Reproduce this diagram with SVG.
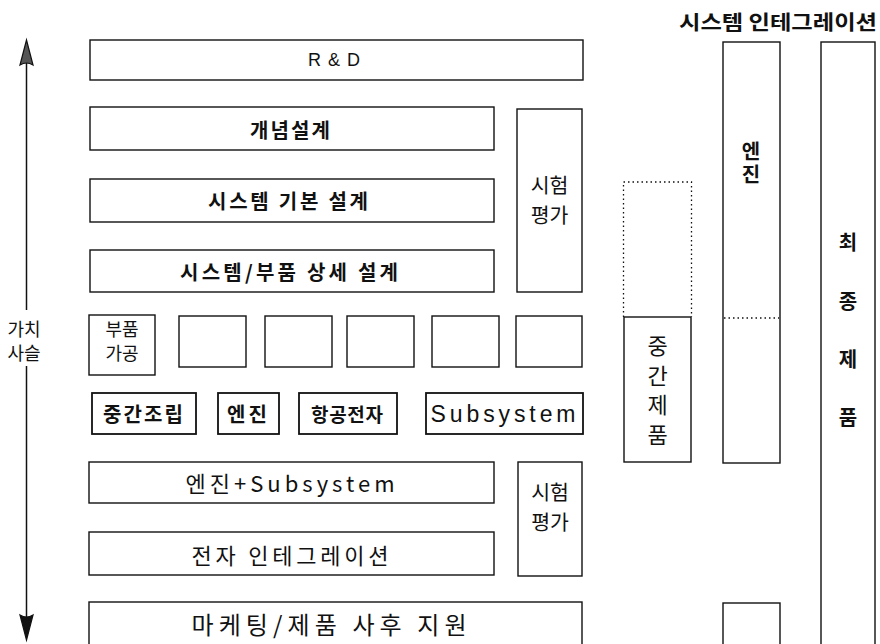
<svg xmlns="http://www.w3.org/2000/svg" width="880" height="644" viewBox="0 0 880 644">
<style>
rect{fill:#fff;stroke:#111;stroke-width:1.4}
.b2{stroke-width:1.8}
.dot{fill:none;stroke:#111;stroke-width:1.3;stroke-dasharray:1.5 3}
text{font-family:"Noto Sans CJK KR","Liberation Sans",sans-serif;fill:#111;text-anchor:middle;dominant-baseline:central}
.lat{font-family:"Liberation Sans","Noto Sans CJK KR",sans-serif}
.bd{font-weight:bold}
.vt{writing-mode:vertical-rl;text-orientation:upright}
</style>
<defs/>
<g id="connectors">
<line x1="26.5" y1="62" x2="26.5" y2="310" stroke="#111" stroke-width="1.5"/>
<line x1="26.5" y1="366" x2="26.5" y2="618" stroke="#111" stroke-width="1.5"/>
<path d="M26.5,40 L33,65 Q26.5,61 20,65 Z" fill="#555" stroke="#111" stroke-width="1.2"/>
<path d="M26.5,640 L33,615 Q26.5,619 20,615 Z" fill="#111" stroke="#111" stroke-width="1.2"/>
</g>
<g id="label-value-chain">
<text x="24" y="328" font-size="18"><tspan x="24" y="328">가치</tspan><tspan x="24" y="352">사슬</tspan></text>
</g>
<g id="title">
<text class="bd" x="778" y="21" font-size="20" textLength="198" lengthAdjust="spacingAndGlyphs">시스템 인테그레이션</text>
</g>
<g id="rnd"><rect x="90" y="40" width="493" height="40"/><text class="lat" x="334" y="60" font-size="18" textLength="52">R&amp;D</text></g>
<g id="concept"><rect x="90" y="107" width="404" height="43"/><text class="bd" x="290" y="129" font-size="20" textLength="80">개념설계</text></g>
<g id="basic-design"><rect x="90" y="179" width="404" height="43"/><text class="bd" x="288" y="200" font-size="20" textLength="160">시스템 기본 설계</text></g>
<g id="detail-design"><rect x="90" y="250" width="404" height="42"/><text class="bd" x="289" y="271" font-size="20" textLength="218">시스템/부품 상세 설계</text></g>
<g id="test-eval-1"><rect x="517" y="109" width="65" height="183"/><text x="549.5" y="184" font-size="20.5"><tspan x="549.5" y="184">시험</tspan><tspan x="549.5" y="214">평가</tspan></text></g>
<g id="parts"><rect x="89" y="315" width="66" height="60"/><text x="122" y="328" font-size="18"><tspan x="122" y="328">부품</tspan><tspan x="122" y="352">가공</tspan></text></g>
<g id="empty-1"><rect x="179" y="316" width="67" height="51"/></g>
<g id="empty-2"><rect x="265" y="316" width="67" height="51"/></g>
<g id="empty-3"><rect x="347" y="316" width="67" height="51"/></g>
<g id="empty-4"><rect x="432" y="316" width="67" height="51"/></g>
<g id="empty-5"><rect x="516" y="316" width="66" height="51"/></g>
<g id="mid-assembly"><rect class="b2" x="92" y="393" width="104" height="41"/><text class="bd" x="143" y="413" font-size="20" textLength="80">중간조립</text></g>
<g id="engine-1"><rect class="b2" x="218" y="393" width="61" height="41"/><text class="bd" x="247" y="413" font-size="20" textLength="40">엔진</text></g>
<g id="avionics"><rect class="b2" x="299" y="393" width="98" height="41"/><text class="bd" x="347" y="413" font-size="19" textLength="72">항공전자</text></g>
<g id="subsystem"><rect class="b2" x="426" y="393" width="157" height="41"/><text class="lat" x="503" y="414" font-size="23" textLength="145">Subsystem</text></g>
<g id="engine-subsystem"><rect x="89" y="462" width="405" height="41"/><text x="290" y="482" font-size="22" textLength="209">엔진+Subsystem</text></g>
<g id="electronics-integration"><rect x="89" y="532" width="405" height="43"/><text x="290" y="554" font-size="22" textLength="197">전자 인테그레이션</text></g>
<g id="test-eval-2"><rect x="518" y="462" width="64" height="114"/><text x="550" y="491" font-size="20.5"><tspan x="550" y="491">시험</tspan><tspan x="550" y="521">평가</tspan></text></g>
<g id="marketing"><rect x="89" y="602" width="493" height="50"/><text x="329" y="623" font-size="24" textLength="275">마케팅/제품 사후 지원</text></g>
<g id="intermediate-product">
<path class="dot" d="M623.5,317 V182 H691.5 V317"/>
<rect x="624" y="317" width="67" height="145"/>
<text class="vt" x="657.5" y="394" font-size="22" letter-spacing="7.7">중간제품</text>
</g>
<g id="engine-column">
<rect x="723" y="42" width="57" height="421"/>
<line class="dot" x1="724" y1="318" x2="779" y2="318"/>
<text class="vt bd" x="751" y="164" font-size="20" letter-spacing="3">엔진</text>
</g>
<g id="engine-bottom"><rect x="723" y="603" width="57" height="50"/></g>
<g id="final-product">
<rect x="821" y="42" width="54" height="620"/>
<text class="vt bd" x="848" y="349.5" font-size="20" letter-spacing="38.3">최종제품</text>
</g>
</svg>
